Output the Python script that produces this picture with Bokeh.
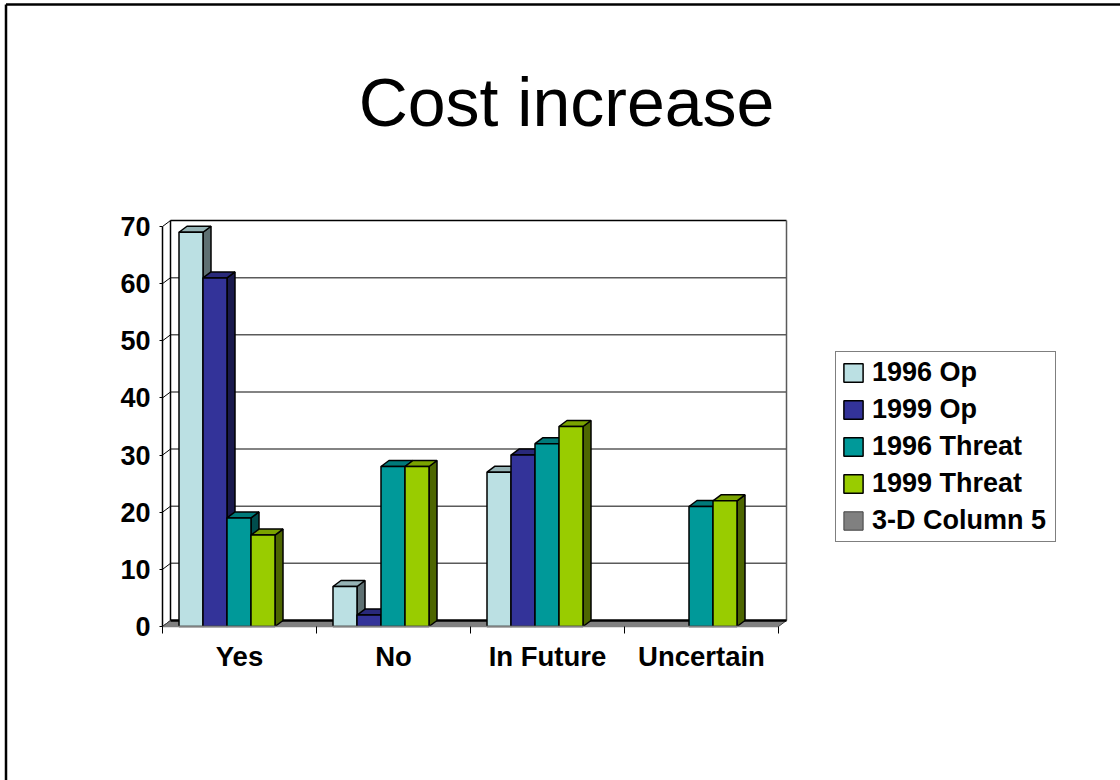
from bokeh.plotting import figure
from bokeh.embed import file_html
from bokeh.resources import INLINE
from bokeh.core.properties import value
from bokeh.models import FixedTicker, Legend, LegendItem, LinearAxis, Range1d

categories = ["Yes", "No", "In Future", "Uncertain"]
series_names = ["1996 Op", "1999 Op", "1996 Threat", "1999 Threat", "3-D Column 5"]
op_1996 = [69, 7, 27, 0]
op_1999 = [61, 2, 30, 0]
threat_1996 = [19, 28, 32, 21]
threat_1999 = [16, 28, 35, 22]
column_5 = [0, 0, 0, 0]
y_ticks = [0, 10, 20, 30, 40, 50, 60, 70]
title_text = "Cost increase"

front = ["#BBE0E3", "#333399", "#009999", "#99CC00", "#808080"]
side = ["#5E7072", "#1A1A4D", "#004D4D", "#4D6600", "#404040"]
top = ["#95B3B5", "#29297A", "#007A7A", "#7AA300", "#666666"]

W, H = 1120, 780
X0, Y0 = 162, 626           # page pixel of category 0, value 0
UX, UY = 154, 5.714         # pixels per category, per value
DX, DY = 8 / UX, 6 / UY
BAR_W = 24 / UX
GROUP_START = 16.5 / UX
LINE = "#000000"


def dx(px):
    return (px - X0) / UX


def dy(py):
    return (Y0 - py) / UY


p = figure(width=W, height=H, output_backend="svg", toolbar_location=None,
           x_range=Range1d(dx(0), dx(W)), y_range=Range1d(dy(H), dy(0)),
           min_border=0, margin=0, outline_line_color=None,
           background_fill_color="white", border_fill_color="white",
           x_axis_location=None, y_axis_location=None)
p.xgrid.visible = False
p.ygrid.visible = False

# slide frame
p.segment([dx(5.5), dx(5.5)], [dy(H), dy(4)], [dx(5.5), dx(W)], [dy(4), dy(4)], line_color="black", line_width=2.5)

p.text([dx(566)], [dy(101)], text=[title_text], text_font=value("Liberation Sans"), text_font_size="68px",
       text_align="center", text_baseline="alphabetic", text_color="black")

# back wall
n = len(categories)
k = len(y_ticks) - 2
p.segment([DX] * k, [v + DY for v in y_ticks[1:-1]], [n + DX] * k, [v + DY for v in y_ticks[1:-1]],
          line_color="#5A5A5A", line_width=1.5)
p.segment([DX], [y_ticks[-1] + DY], [n + DX], [y_ticks[-1] + DY], line_color="black", line_width=1.5)
p.segment([n + DX], [DY], [n + DX], [y_ticks[-1] + DY], line_color="#5A5A5A", line_width=1.5)
p.segment([DX], [DY], [DX], [y_ticks[-1] + DY], line_color=LINE, line_width=1.5)
# side wall slants
p.segment([0] * len(y_ticks), y_ticks, [DX] * len(y_ticks), [v + DY for v in y_ticks],
          line_color=LINE, line_width=1)
# floor (series 5 has zero height)
floor = p.patch([0, DX, n + DX, n], [column_5[0], DY, DY, column_5[-1]], fill_color=front[4],
                line_color="#404040", line_width=1)
p.segment([DX], [DY], [n + DX], [DY], line_color="black", line_width=2.5)

renderers = []
all_values = [op_1996, op_1999, threat_1996, threat_1999]
for s, values in enumerate(all_values):
    xs, tops = [], []
    for c, v in enumerate(values):
        if v > 0:
            xs.append(c + GROUP_START + s * BAR_W)
            tops.append(v)
    sx = [[x + BAR_W, x + BAR_W + DX, x + BAR_W + DX, x + BAR_W] for x in xs]
    sy = [[0, DY, v + DY, v] for v in tops]
    tx = [[x, x + DX, x + BAR_W + DX, x + BAR_W] for x in xs]
    ty = [[v, v + DY, v + DY, v] for v in tops]
    p.patches(sx, sy, fill_color=side[s], line_color=LINE, line_width=1.5)
    p.patches(tx, ty, fill_color=top[s], line_color=LINE, line_width=1.5)
    r = p.vbar(x=[x + BAR_W / 2 for x in xs], width=BAR_W, bottom=0, top=tops,
               fill_color=front[s], line_color=LINE, line_width=1.5)
    renderers.append(r)
renderers.append(floor)

# axes
xa = LinearAxis(fixed_location=0)
xa.ticker = FixedTicker(ticks=[i + 0.5 for i in range(n)], minor_ticks=list(range(n + 1)))
xa.major_label_overrides = {i + 0.5: c for i, c in enumerate(categories)}
xa.bounds = (0, n)
xa.major_tick_line_color = None
xa.minor_tick_in = 0
xa.minor_tick_out = 7
xa.minor_tick_line_color = "black"
xa.axis_line_color = "#808080"
xa.axis_line_width = 1.5
xa.major_label_standoff = 7
xa.major_label_text_font = "Liberation Sans"
xa.major_label_text_font_style = "bold"
xa.major_label_text_font_size = "27.5px"
xa.major_label_text_color = "black"
p.add_layout(xa, "below")

ya = LinearAxis(fixed_location=0)
ya.ticker = FixedTicker(ticks=y_ticks)
ya.bounds = (y_ticks[0], y_ticks[-1])
ya.minor_tick_line_color = None
ya.major_tick_in = 0
ya.major_tick_out = 3
ya.axis_line_color = "black"
ya.axis_line_width = 1.5
ya.major_label_standoff = 9
ya.major_label_text_font = "Liberation Sans"
ya.major_label_text_font_style = "bold"
ya.major_label_text_font_size = "27px"
ya.major_label_text_color = "black"
p.add_layout(ya, "left")

legend = Legend(items=[LegendItem(label=name, renderers=[r]) for name, r in zip(series_names, renderers)],
                location=(835, H - 542), orientation="vertical", margin=0, padding=5, spacing=6,
                glyph_width=24, glyph_height=23, label_standoff=7, label_height=28, label_width=178,
                label_text_font="Liberation Sans", label_text_font_style="bold", label_text_font_size="27px",
                label_text_color="black", border_line_color="black", border_line_width=1.5,
                background_fill_color="white", background_fill_alpha=1)
p.add_layout(legend, "center")

open("out.html", "w").write(file_html(p, INLINE))
